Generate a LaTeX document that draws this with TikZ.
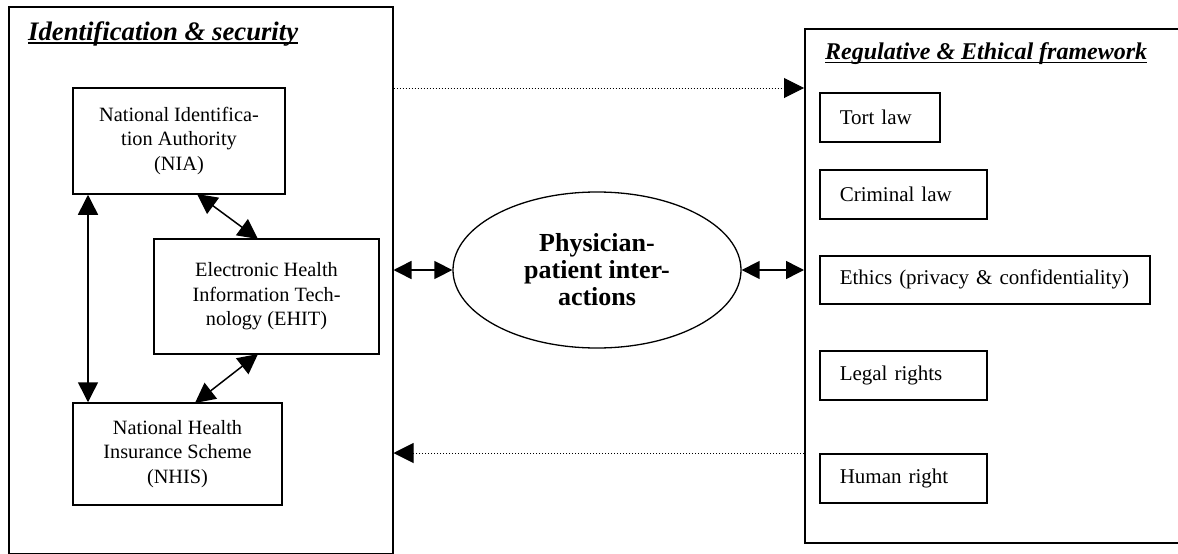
\documentclass[tikz,border=0pt]{standalone}
\usepackage{fontspec}
\setmainfont{Liberation Serif}
\usetikzlibrary{arrows.meta,shapes.geometric}
\begin{document}
\begin{tikzpicture}[x=1pt,y=-1pt,
  frame/.style={draw,line width=1.5pt},
  cbox/.style={draw,line width=1.5pt,rectangle,align=center,inner sep=0pt,
    font=\fontsize{20.3}{24.5}\selectfont},
  lbox/.style={draw,line width=1.5pt,rectangle,anchor=north west,inner xsep=20pt,
    inner ysep=0pt,align=left,font=\fontsize{21}{24}\selectfont},
  ttl/.style={anchor=base west,inner sep=0pt,font=\bfseries\itshape},
  dbl/.style={line width=1.5pt,{Triangle[length=20pt,width=20pt]}-{Triangle[length=20pt,width=20pt]}},
  sdbl/.style={line width=1.5pt,{Triangle[length=18pt,width=18pt]}-{Triangle[length=18pt,width=18pt]}},
  dot/.style={line width=1pt,dash pattern=on 1.2pt off 1.8pt,-{Triangle[length=20pt,width=20pt]}}
]
\useasboundingbox (0,0) rectangle (1178,554);
% frames
\node[frame,rectangle,minimum width=384pt,minimum height=547pt,inner sep=0pt,anchor=north west] (L) at (8,6) {};
\node[frame,rectangle,minimum width=390pt,minimum height=514pt,inner sep=0pt,anchor=north west] (R) at (804,28) {};
% titles
\node[ttl,font=\bfseries\itshape\fontsize{26.7}{28}\selectfont] (t1) at (28,40) {Identification \& security};
\draw[line width=1.2pt] ([yshift=-3pt]t1.base west) -- ([yshift=-3pt]t1.base east);
\node[ttl,font=\bfseries\itshape\fontsize{24}{26}\selectfont] (t2) at (825,59) {Regulative \& Ethical framework};
\draw[line width=1.2pt] ([yshift=-3.5pt]t2.base west) -- ([yshift=-3.5pt]t2.base east);
% left boxes
\node[cbox,minimum width=212pt,minimum height=106pt] (nia) at (179,141)
  {National Identifica-\\tion Authority\\(NIA)};
\node[cbox,minimum width=225pt,minimum height=115pt] (ehit) at (266.5,296.5)
  {Electronic Health\\Information Tech-\\nology (EHIT)};
\node[cbox,minimum width=209pt,minimum height=102pt] (nhis) at (177.5,454)
  {National Health\\Insurance Scheme\\(NHIS)};
% ellipse
\node[draw,ellipse,line width=1.3pt,minimum width=288pt,minimum height=156pt,inner sep=0pt,
  align=center,font=\bfseries\fontsize{26}{27}\selectfont] (pp) at (597,270)
  {Physician-\\patient inter-\\actions};
% right boxes
\node[lbox,text width=80pt,minimum height=49pt] (tort) at (819,92) {Tort law};
\node[lbox,text width=127pt,minimum height=49pt] (crim) at (819,169) {Criminal law};
\node[lbox,text width=290pt,minimum height=48pt] (eth) at (819,255) {\mbox{Ethics (privacy \& confidentiality)}};
\node[lbox,text width=127pt,minimum height=49pt] (legal) at (819,350) {Legal rights};
\node[lbox,text width=127pt,minimum height=49pt] (hum) at (819,453) {Human right};
% arrows in left frame
\draw[dbl] (nia.south west -| 88,0) -- (nhis.north west -| 88,0);
\draw[dbl] (197,194) -- (258,239);
\draw[dbl] (258,354) -- (195,403);
% ellipse arrows
\draw[sdbl] (L.east |- pp.west) -- (pp.west);
\draw[sdbl] (pp.east) -- (R.west |- pp.east);
% dotted arrows
\draw[dot] (L.east |- 0,88) -- (R.west |- 0,88);
\draw[dot] (R.west |- 0,453) -- (L.east |- 0,453);
\end{tikzpicture}
\end{document}
